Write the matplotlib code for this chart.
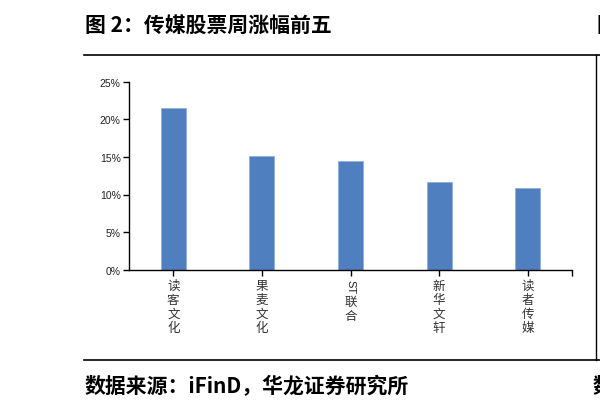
import re
import matplotlib
matplotlib.use('Agg')
import matplotlib.pyplot as plt
import matplotlib.transforms as mtransforms
from matplotlib.lines import Line2D
from matplotlib.ticker import FuncFormatter

plt.rcParams['font.family'] = ['Noto Sans CJK SC', 'DejaVu Sans']

# data
stocks = ['读客文化', '果麦文化', 'ST联合', '新华文轩', '读者传媒']
weekly_gain = [0.215, 0.151, 0.145, 0.117, 0.108]
y_ticks = [0, 0.05, 0.10, 0.15, 0.20, 0.25]

title = '图 2：传媒股票周涨幅前五'
source = '数据来源：iFinD，华龙证券研究所'

W, H = 600, 410
fig = plt.figure(figsize=(6, 4.1), dpi=100)

def fx(px):
    return px / W

def fy(py):
    return 1 - py / H

ax = fig.add_axes([fx(129), fy(270.7), fx(572 - 129), fy(82.7) - fy(270.7)])

x = list(range(len(stocks)))
ax.bar(x, weekly_gain, width=0.28, color='#4f7fbf', edgecolor='#8fb0dc', linewidth=0.6)

ax.set_xlim(-0.5, len(stocks) - 0.5)
ax.set_ylim(0, 0.25)
ax.set_yticks(y_ticks)
ax.yaxis.set_major_formatter(FuncFormatter(lambda v, p: f'{v * 100:.0f}%'))
ax.tick_params(axis='y', direction='out', length=4, width=1, pad=2,
               labelsize=7.5, labelcolor='#222222', labelfontfamily='Liberation Sans')
ax.set_xticks(x)
ax.set_xticks([len(stocks) - 0.5], minor=True)
ax.set_xticklabels([])
ax.tick_params(axis='x', which='both', direction='out', length=4, width=1)

for s in ['top', 'right']:
    ax.spines[s].set_visible(False)
for s in ['left', 'bottom']:
    ax.spines[s].set_linewidth(1)

# vertical stacked category labels
step = 14.2
for xi, name in zip(x, stocks):
    tokens = re.findall(r'[A-Za-z0-9]+|.', name)
    off = 0
    for tok in tokens:
        base = mtransforms.blended_transform_factory(ax.transData, ax.transAxes)
        tr = base + mtransforms.ScaledTranslation(0, -(9 + off) / 100, fig.dpi_scale_trans)
        if tok.isascii():
            ax.text(xi, 0, tok, transform=tr, rotation=270, ha='center', va='top',
                    fontsize=8, color='#222222', family='Liberation Sans')
            off += 7 * len(tok) + 2
        else:
            ax.text(xi, 0, tok, transform=tr, ha='center', va='top',
                    fontsize=9, color='#333333')
            off += step

# frame lines of the page
lw = 1.2
fig.add_artist(Line2D([fx(84), 1], [fy(56), fy(56)], color='black', lw=lw))
fig.add_artist(Line2D([fx(84), 1], [fy(361), fy(361)], color='black', lw=lw))
fig.add_artist(Line2D([fx(595.5), fx(595.5)], [fy(56), fy(361)], color='black', lw=1))

fig.text(fx(85), fy(25), title, fontsize=15, fontweight='bold', va='center', ha='left')
fig.text(fx(85), fy(386), source, fontsize=15, fontweight='bold', va='center', ha='left')
# edges of the next page column, cut by the figure border as in the source
fig.text(fx(597), fy(25), '图', fontsize=15, fontweight='bold', va='center', ha='left')
fig.text(fx(593), fy(386), '数', fontsize=15, fontweight='bold', va='center', ha='left')

fig.savefig('out.png', dpi=100)
